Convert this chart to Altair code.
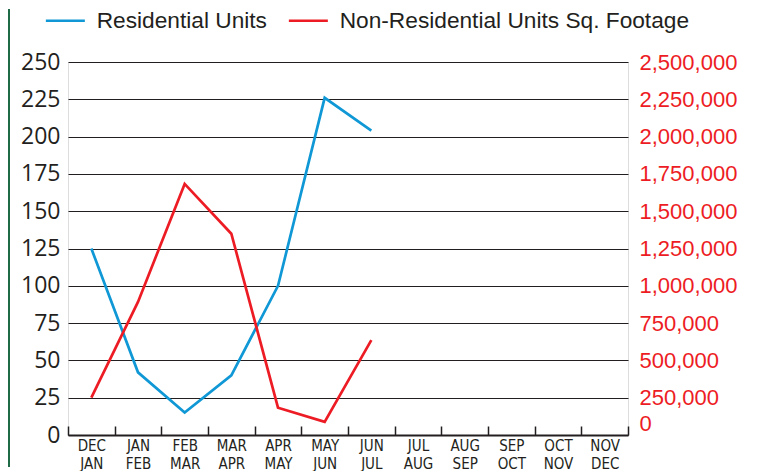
import altair as alt
import pandas as pd

periods = ["DEC JAN", "JAN FEB", "FEB MAR", "MAR APR", "APR MAY", "MAY JUN",
           "JUN JUL", "JUL AUG", "AUG SEP", "SEP OCT", "OCT NOV", "NOV DEC"]
residential_units = [125, 42, 15, 40, 100, 226, 204]
nonres_sqft = [250000, 892000, 1683000, 1349000, 183000, 88000, 636000]
left_ticks = [0, 25, 50, 75, 100, 125, 150, 175, 200, 225, 250]
right_ticks = [0, 250000, 500000, 750000, 1000000, 1250000, 1500000,
               1750000, 2000000, 2250000, 2500000]

S1 = "Residential Units"
S2 = "Non-Residential Units Sq. Footage"
BLUE = "#0f98d5"
RED = "#ed1c24"
INK = "#231f20"

df1 = pd.DataFrame({"period": periods[:len(residential_units)], "value": residential_units,
                    "series": S1})
df2 = pd.DataFrame({"period": periods[:len(nonres_sqft)], "value": nonres_sqft,
                    "series": S2})

xenc = alt.X(
    "period:N",
    sort=periods,
    scale=alt.Scale(domain=periods, paddingInner=0, paddingOuter=0),
    axis=alt.Axis(
        title=None,
        labelExpr="split(datum.label, ' ')",
        labelAngle=0,
        labelFont="DejaVu Sans Condensed, Liberation Sans Narrow, sans-serif",
        labelFontSize=15,
        labelColor=INK,
        labelLineHeight=18,
        labelPadding=12,
        tickBand="extent",
        tickSize=alt.ExprRef(expr="-9"),
        tickColor=INK,
        tickWidth=1.5,
        domainColor=INK,
        domainWidth=2,
        grid=False,
    ),
)

color_scale = alt.Scale(domain=[S1, S2], range=[BLUE, RED])
legend = alt.Legend(
    title=None,
    orient="none",
    legendX=-14,
    legendY=-53,
    direction="horizontal",
    symbolType="M-2,0H2",
    symbolSize=380,
    symbolStrokeWidth=2.5,
    labelFont="Liberation Sans",
    labelFontSize=22.7,
    labelColor=INK,
    labelOffset=20,
    labelLimit=500,
    columnPadding=16,
)

line1 = alt.Chart(df1).mark_line(strokeWidth=2.7).encode(
    x=xenc,
    y=alt.Y(
        "value:Q",
        scale=alt.Scale(domain=[0, 250]),
        axis=alt.Axis(
            title=None,
            values=left_ticks,
            orient="left",
            domain=False,
            ticks=False,
            grid=True,
            gridColor=INK,
            gridWidth=1.2,
            labelFont="Open Sans",
            labelFontSize=23,
            labelColor=INK,
            labelPadding=8,
            minExtent=60,
            maxExtent=60,
        ),
    ),
    color=alt.Color("series:N", scale=color_scale, legend=legend),
)

line2 = alt.Chart(df2).mark_line(strokeWidth=2.7).encode(
    x=xenc,
    y=alt.Y(
        "value:Q",
        scale=alt.Scale(domain=[0, 2500000]),
        axis=alt.Axis(
            title=None,
            values=right_ticks,
            orient="right",
            format=",d",
            domain=False,
            ticks=False,
            grid=False,
            labelFont="Liberation Sans",
            labelFontSize=22,
            labelColor=RED,
            labelPadding=11,
            labelBaseline={"condition": {"test": "datum.value == 0", "value": "bottom"}, "value": "middle"},
        ),
    ),
    color=alt.Color("series:N", scale=color_scale, legend=legend),
)

border = alt.Chart(df1).mark_rule(color="#1f6b47", strokeWidth=2).encode(
    x=alt.value(-59), y=alt.value(-53), y2=alt.value(405)
)

chart = alt.layer(line1, line2, border).resolve_scale(y="independent").properties(
    width=560, height=373, padding={"left": 0, "top": 0, "right": 5, "bottom": 0},
).configure_view(stroke=None).configure(background="white")

chart.save("out.html", embed_options={"renderer": "svg", "actions": False})
